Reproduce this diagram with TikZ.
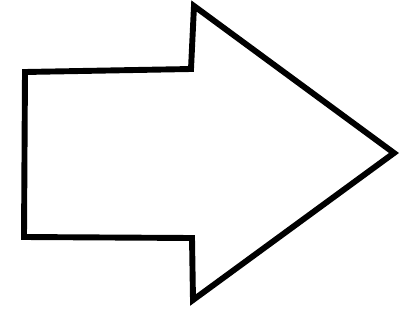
\documentclass[tikz,border=0pt]{standalone}
\usepackage{tikz}
\tikzset{
  blockarrow/.style={draw=black,line width=4.2pt,line join=miter,fill=white}
}
\begin{document}
\begin{tikzpicture}[x=0.025cm,y=-0.025cm]
  \useasboundingbox (0,0) rectangle (400,329);
  % body and head of the arrow
  \draw[blockarrow] (25,72) -- (191,69) -- (194,6) -- (394,153)
    -- (193,300) -- (192,238) -- (24,237) -- cycle;
\end{tikzpicture}
\end{document}
